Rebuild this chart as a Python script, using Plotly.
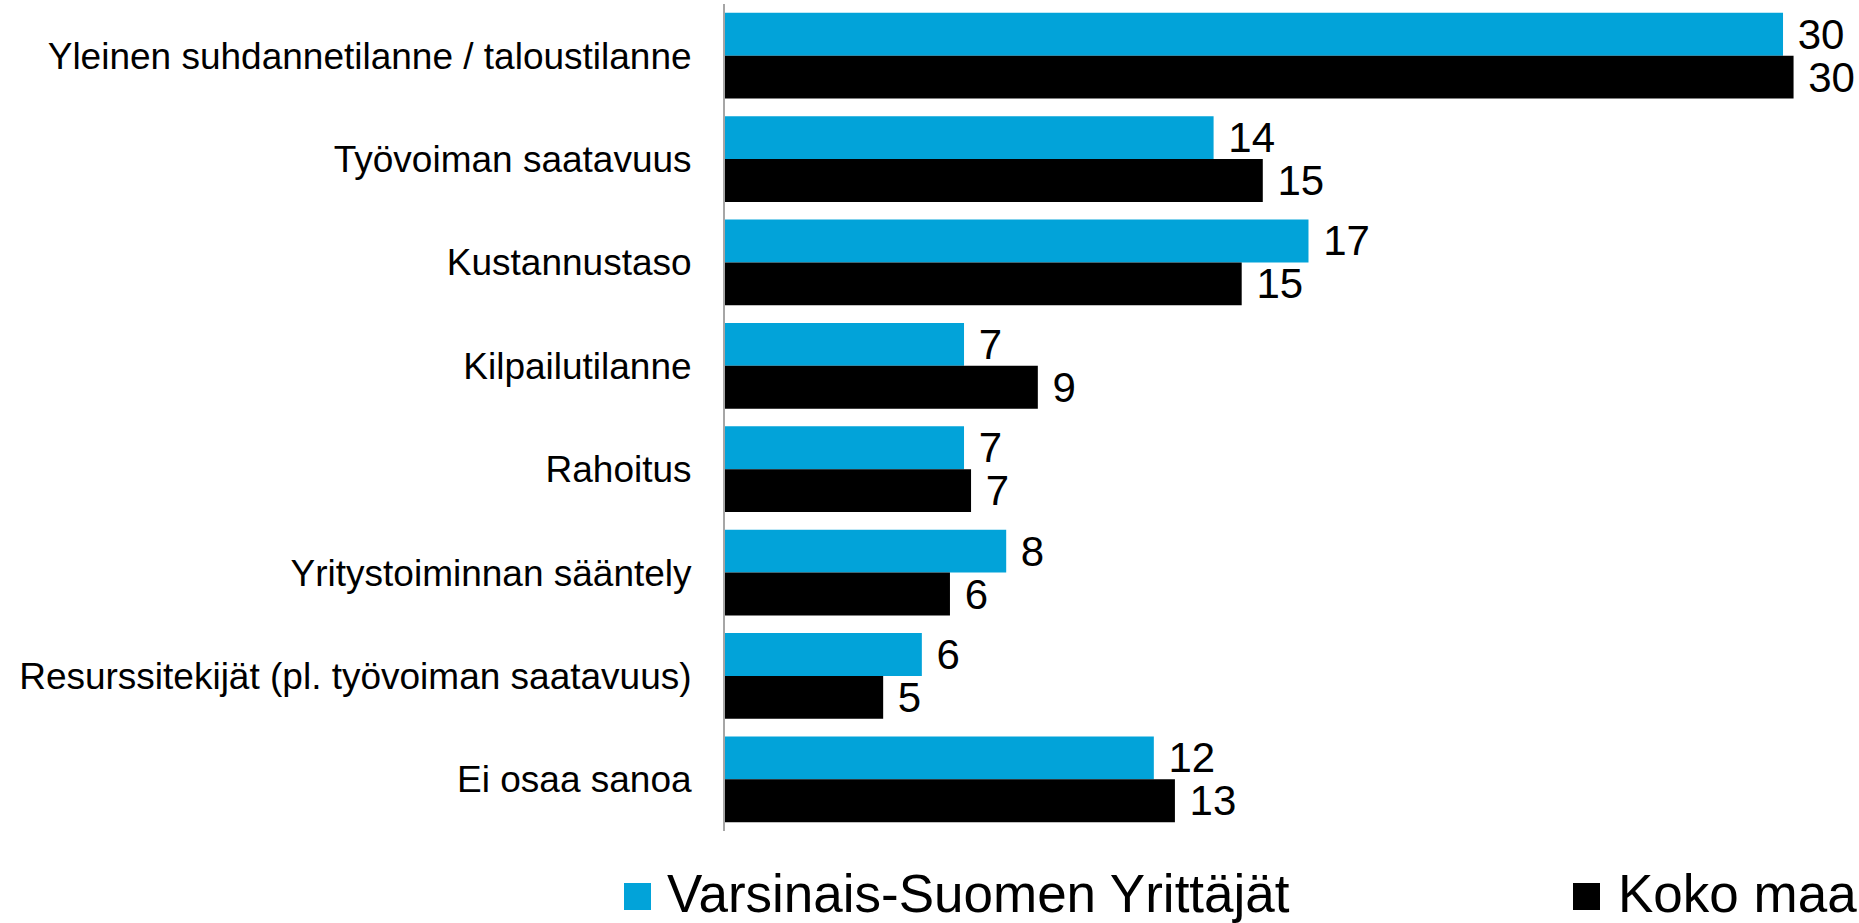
import plotly.graph_objects as go

categories = [
    "Yleinen suhdannetilanne / taloustilanne",
    "Työvoiman saatavuus",
    "Kustannustaso",
    "Kilpailutilanne",
    "Rahoitus",
    "Yritystoiminnan sääntely",
    "Resurssitekijät (pl. työvoiman saatavuus)",
    "Ei osaa sanoa",
]
series_names = ["Varsinais-Suomen Yrittäjät", "Koko maa"]
varsinais_suomi = [30.1, 13.9, 16.6, 6.8, 6.8, 8.0, 5.6, 12.2]
koko_maa = [30.4, 15.3, 14.7, 8.9, 7.0, 6.4, 4.5, 12.8]
colors = ["#02A3D9", "#000000"]

W, H = 1859, 923
ML, MR, MT, MB = 725, 0, 4, 92
PW = W - ML - MR
PH = H - MT - MB
XMAX = PW / 35.15

FONT = "Liberation Sans, Arial, sans-serif"

fig = go.Figure()
for name, vals, col in zip(series_names, [varsinais_suomi, koko_maa], colors):
    fig.add_trace(go.Bar(
        y=categories, x=vals, name=name, orientation="h",
        marker=dict(color=col, line=dict(width=0)),
        texttemplate="\u00a0%{x:.0f}", textposition="outside",
        textfont=dict(family=FONT, size=42, color="black"),
        constraintext="none", cliponaxis=False, showlegend=False,
        hoverinfo="skip",
    ))

def px_x(p):
    return (p - ML) / PW

def px_y(p):
    return (H - MB - p) / PH

# manual legend (large square keys)
legend_items = [(624, 665), (1573, 1616)]
for (sx, tx), name, col in zip(legend_items, series_names, colors):
    fig.add_shape(type="rect", xref="paper", yref="paper",
                  x0=px_x(sx), x1=px_x(sx + 27), y0=px_y(883), y1=px_y(910),
                  fillcolor=col, line=dict(width=0))
    fig.add_annotation(xref="paper", yref="paper", x=px_x(tx), y=px_y(894),
                       xanchor="left", yanchor="middle", showarrow=False,
                       text=name, font=dict(family=FONT, size=53, color="black"))

fig.update_layout(
    width=W, height=H,
    margin=dict(l=ML, r=MR, t=MT, b=MB, pad=0, autoexpand=False),
    barmode="group", bargap=0.17, bargroupgap=0,
    plot_bgcolor="white", paper_bgcolor="white",
    showlegend=False,
    xaxis=dict(range=[0, XMAX], visible=False, showgrid=False, zeroline=False,
               automargin=False),
    yaxis=dict(autorange="reversed", showline=True, linecolor="#A6A6A6", linewidth=2,
               ticks="", ticklabelstandoff=24, showgrid=False, automargin=False,
               tickfont=dict(family=FONT, size=37, color="black")),
)

fig.write_html("out.html", config={"displayModeBar": False},
               post_script="document.body.style.margin='0';document.body.style.overflow='hidden';")
